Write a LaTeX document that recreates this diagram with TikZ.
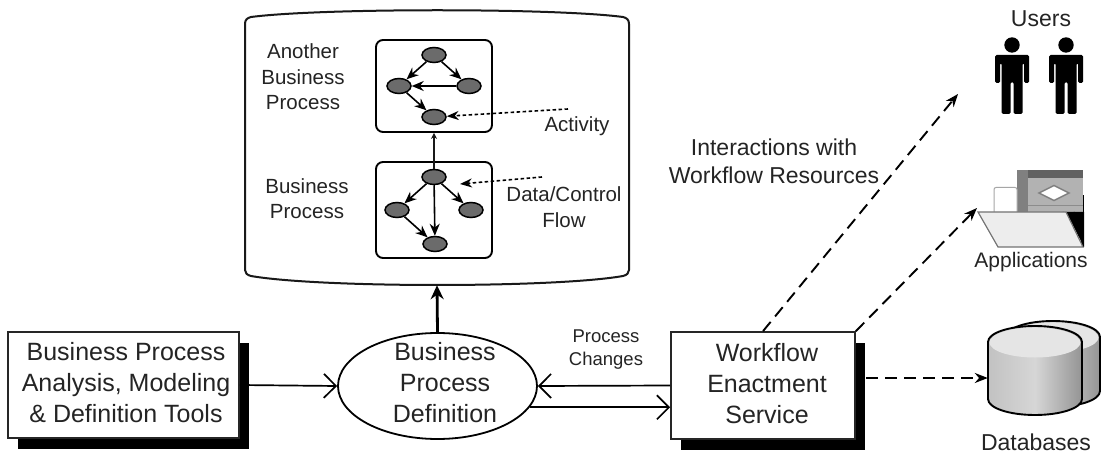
\documentclass[tikz,border=0pt]{standalone}
\usepackage{fontspec}
\setmainfont{Liberation Sans}
\usetikzlibrary{arrows.meta,shapes.geometric,shadows}
\definecolor{ink}{gray}{0.14}
\tikzset{
  px/.style={x=1pt,y=-1pt},
  txt/.style={text=ink,align=center,inner sep=0pt},
  labbig/.style={txt,font=\fontsize{25}{31}\selectfont},
  labin/.style={txt,font=\fontsize{20.5}{25.5}\selectfont},
  labres/.style={txt,font=\fontsize{23}{28}\selectfont},
  labsmall/.style={txt,font=\fontsize{18.5}{23}\selectfont},
  act/.style={ellipse,draw=black,line width=1.5pt,fill=black!58,minimum width=24pt,minimum height=15pt,inner sep=0pt},
  procbox/.style={draw=black,line width=1.9pt,rounded corners=7pt,fill=white,minimum width=116pt,inner sep=0pt},
  flow/.style={draw=black,line width=1.6pt,-{Stealth[length=12pt,width=10pt]}},
  thinup/.style={draw=black!90,line width=1.2pt,-{Stealth[length=6pt,width=6pt]}},
  dotarrow/.style={draw=black,line width=1.6pt,dash pattern=on 3.5pt off 2.5pt,-{Stealth[length=12pt,width=9pt]}},
  dasharrow/.style={draw=black,line width=1.9pt,dash pattern=on 12pt off 7pt,-{Stealth[length=13pt,width=10pt]}},
  openarrow/.style={draw=black,line width=1.7pt,-{Straight Barb[length=12pt,width=24pt,line width=1.7pt]}},
  thickarrow/.style={draw=black,line width=2.8pt,-{Stealth[length=14pt,width=13pt]}},
  sqbox/.style={draw=black!85,line width=1.7pt,fill=white,inner sep=0pt,drop shadow={shadow xshift=10pt,shadow yshift=-10.5pt,opacity=1,fill=black}},
  ghost/.style={inner sep=0pt,draw=none}
}
\newcommand{\manfig}[1]{%
 \begin{scope}[shift={(#1,0)}]
  \fill[black] (0,45) circle (7.7);
  \fill[black,rounded corners=1.5pt] (-17,55) -- (17,55) -- (17,83) -- (12,83) -- (12,63) -- (10.5,63) -- (10.5,114) -- (1.5,114) -- (1.5,82) -- (-1.5,82) -- (-1.5,114) -- (-10.5,114) -- (-10.5,63) -- (-12,63) -- (-12,83) -- (-17,83) -- cycle;
 \end{scope}}
\newcommand{\dbcyl}[4]{% x centre, top y of side, bottom y of side, top fill
 \begin{scope}
  \path[left color=black!24,right color=black!42,middle color=black!16,draw=black,line width=1.9pt]
    (#1-47,#2) -- (#1-47,#3) .. controls (#1-47,#3+9) and (#1-26,#3+16) .. (#1,#3+16)
    .. controls (#1+26,#3+16) and (#1+47,#3+9) .. (#1+47,#3) -- (#1+47,#2)
    .. controls (#1+47,#2-9) and (#1+26,#2-16) .. (#1,#2-16)
    .. controls (#1-26,#2-16) and (#1-47,#2-9) .. (#1-47,#2) -- cycle;
  \fill[black!#4] (#1,#2+0.5) ellipse (45.5 and 15);
 \end{scope}}
\begin{document}
\begin{tikzpicture}[px]
\useasboundingbox (0,0) rectangle (1103,454);
\fill[white] (0,0) rectangle (1103,454);
% repository
\draw[line width=2pt,fill=white,draw=black!90] (245,24) .. controls (245,20) and (247,18) .. (251,17)
  .. controls (320,8) and (555,8) .. (623,17) .. controls (627,18) and (629,20) .. (629,24)
  -- (629,270) .. controls (629,273) and (627,275) .. (623,276)
  .. controls (555,288) and (320,288) .. (251,276) .. controls (247,275) and (245,273) .. (245,270) -- cycle;
\node[ghost,minimum width=384pt,minimum height=275pt] (repo) at (437,147.5) {};
% process boxes
\node[procbox,minimum height=92pt] (procA) at (434,86) {};
\node[procbox,minimum height=96pt] (procB) at (434,210) {};
% activities
\node[act] (a1) at (434,55) {};
\node[act] (a2) at (399,86) {};
\node[act] (a3) at (469,86) {};
\node[act] (a4) at (434,117) {};
\node[act] (b1) at (434,177) {};
\node[act] (b2) at (397,210) {};
\node[act] (b3) at (471,210) {};
\node[act] (b4) at (435,244) {};
\draw[flow] (a1) -- (a2);
\draw[flow] (a1) -- (a3);
\draw[flow] (a3) -- (a2);
\draw[flow] (a2) -- (a4);
\draw[flow] (b1) -- (b2);
\draw[flow] (b1) -- (b3);
\draw[flow] (b1) -- (b4);
\draw[flow] (b2) -- (b4);
\draw[thinup] (b1) -- (procA.south);
% repository labels
\node[labin] (lab1) at (303,77) {Another\\Business\\Process};
\node[labin] (lab2) at (307,198.5) {Business\\Process};
\node[labin] (lab3) at (577,126) {Activity};
\node[labin] (lab4) at (564,207) {Data/Control\\Flow};
\coordinate (actstart) at (568,109);
\coordinate (flowstart) at (542,177);
\coordinate (flowend) at (460,184);
\draw[dotarrow] (actstart) -- (a4);
\draw[dotarrow] (flowstart) -- (flowend);
% main boxes
\node[sqbox,minimum width=231pt,minimum height=106pt] (tools) at (123.5,385) {};
\node[labbig] (toolstext) at (126,383) {Business Process\\Analysis, Modeling\\\& Definition Tools};
\node[ellipse,draw=black,line width=1.8pt,fill=white,minimum width=199pt,minimum height=106pt,inner sep=0pt] (bpd) at (437.5,386) {};
\node[labbig] (bpdtext) at (445,382.5) {Business\\Process\\Definition};
\node[sqbox,minimum width=184pt,minimum height=107pt] (wes) at (763,385.5) {};
\node[labbig] (westext) at (767,384) {Workflow\\Enactment\\Service};
\node[labsmall] (pc) at (606,349.5) {Process\\Changes};
% connectors
\draw[openarrow] (tools.east) -- (bpd.west);
\draw[openarrow] (wes.west) -- (bpd.east);
\draw[openarrow] (bpd.-13) -- (bpd.-13 -| wes.west);
\draw[thickarrow] (bpd.north) -- (repo.south);
% resources
\node[labres] (inter) at (774,161) {Interactions with\\Workflow Resources};
\node[labres] (users) at (1041,19) {Users};
\node[txt,font=\fontsize{21}{25}\selectfont] (apps) at (1031,262) {Applications};
\node[labres] (dbs) at (1036,442) {Databases};
\manfig{1012}
\manfig{1066}
% application icon
\fill[black] (1081,195) rectangle (1084,247);
\fill[black!30] (1017,170) rectangle (1083,213);
\fill[black!62] (1017,170) rectangle (1083,178);
\fill[black!50] (1017,170) rectangle (1028,213);
\draw[black!45,line width=1pt] (1028,206) -- (1083,206);
\draw[black!50,fill=white,line width=1.5pt] (1039,193) -- (1054,185.5) -- (1069,193) -- (1054,200.5) -- cycle;
\draw[black!35,fill=white,line width=1pt,rounded corners=2pt] (994,212) -- (994,187.5) -- (1017,187.5) -- (1017,212);
\fill[black!60] (1063,213) circle (1.5) (1074,213) circle (1.5);
\fill[black] (1066,212) -- (1084,212) -- (1084,247) -- cycle;
\draw[black!55,fill=black!7,line width=1.2pt] (978,212) -- (1066,212) -- (1083,247) -- (998,247) -- cycle;
\coordinate (appsin) at (977,208);
\coordinate (usersin) at (958,94);
\draw[dasharrow] (wes.north) -- (usersin);
\draw[dasharrow] (wes.north east) -- (appsin);
% databases
\dbcyl{1053}{337}{391}{10}
\dbcyl{1035}{342}{399}{10}
\node[ghost,minimum width=94pt,minimum height=89pt] (db) at (1035,370.5) {};
\coordinate (wesedge) at (866,378);
\draw[dasharrow] (wesedge) -- (wesedge -| db.west);
\end{tikzpicture}
\end{document}
